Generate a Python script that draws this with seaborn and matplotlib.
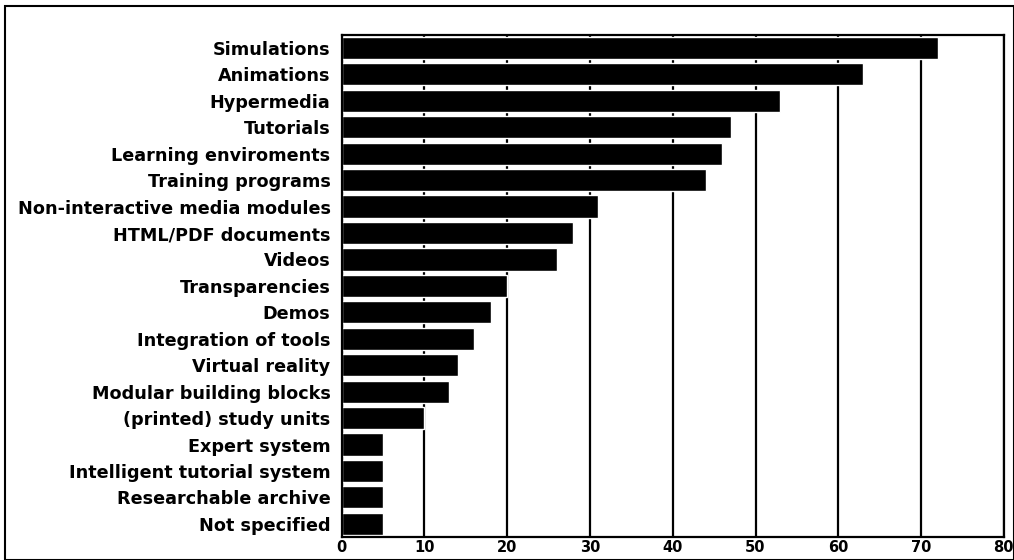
import numpy as np
import pandas as pd
import seaborn as sns
import matplotlib.pyplot as plt
from matplotlib.patches import Rectangle

# Kategorier og verdier lest av figuren
kategorier = [
    "Simulations", "Animations", "Hypermedia", "Tutorials",
    "Learning enviroments", "Training programs",
    "Non-interactive media modules", "HTML/PDF documents", "Videos",
    "Transparencies", "Demos", "Integration of tools", "Virtual reality",
    "Modular building blocks", "(printed) study units", "Expert system",
    "Intelligent tutorial system", "Researchable archive", "Not specified",
]
verdier = [72, 63, 53, 47, 46, 44, 31, 28, 26, 20, 18, 16, 14, 13, 10, 5, 5, 5, 5]
x_ticks = [0, 10, 20, 30, 40, 50, 60, 70, 80]

df = pd.DataFrame({"kategori": kategorier, "verdi": verdier})

sns.set_style("white")
plt.rcParams["font.family"] = ["DejaVu Sans"]
plt.rcParams["text.color"] = "black"
plt.rcParams["xtick.color"] = "black"
plt.rcParams["ytick.color"] = "black"

fig = plt.figure(figsize=(10.14, 5.6), dpi=100)
ax = fig.add_axes([0.337, 0.041, 0.653, 0.897])

sns.barplot(data=df, y="kategori", x="verdi", orient="h", color="black",
            width=0.84, saturation=1, ax=ax, zorder=2)

ax.set_xlim(0, 80)
ax.set_xticks(x_ticks)
ax.set_xticklabels([str(t) for t in x_ticks], fontsize=10.5, fontweight="bold")
ax.set_xlabel("")
ax.set_ylabel("")
for lbl in ax.get_yticklabels():
    lbl.set_fontsize(12.7)
    lbl.set_fontweight("bold")
    lbl.set_color("black")
ax.tick_params(axis="y", length=0, pad=8, labelcolor="black")
ax.tick_params(axis="x", length=0, pad=2, labelcolor="black")

# vertikale rutenettlinjer
ax.grid(axis="x", color="black", linewidth=1.6, zorder=1)
ax.set_axisbelow(True)
for s in ax.spines.values():
    s.set_color("black")
    s.set_linewidth(1.6)

# ramme rundt hele figuren
fig.patches.append(Rectangle((0.005, 0.0), 0.995, 0.99, transform=fig.transFigure,
                             fill=False, edgecolor="black", linewidth=1.5))

fig.savefig("out.png", dpi=100)
